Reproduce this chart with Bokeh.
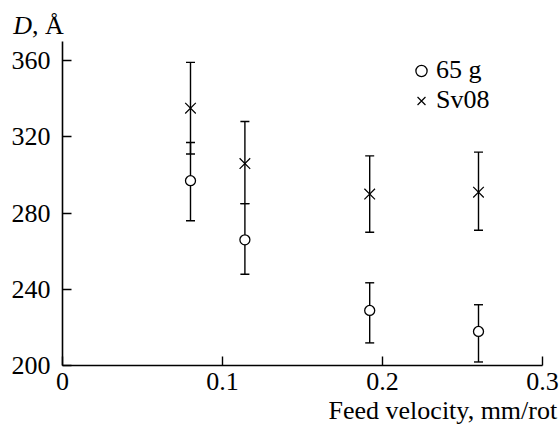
from bokeh.plotting import figure
from bokeh.models import (ColumnDataSource, Whisker, TeeHead, FixedTicker, Label,
                          Legend, LegendItem, Range1d)
from bokeh.embed import file_html
from bokeh.resources import INLINE

# ---- data ----
feed = [0.08, 0.114, 0.192, 0.26]
d_65g = [297, 266, 229, 218]
d_65g_upper = [317, 285, 243.5, 232]
d_65g_lower = [276, 248, 212, 202]
d_sv08 = [335, 306, 290, 291]
d_sv08_upper = [359, 328, 310, 312]
d_sv08_lower = [311, 285, 270, 271]
x_ticks = [0, 0.1, 0.2, 0.3]
x_tick_labels = ["0", "0.1", "0.2", "0.3"]
y_ticks = [200, 240, 280, 320, 360]

FONT = "Liberation Serif"
FS = "26px"

src_g = ColumnDataSource(dict(x=feed, y=d_65g, up=d_65g_upper, lo=d_65g_lower))
src_s = ColumnDataSource(dict(x=feed, y=d_sv08, up=d_sv08_upper, lo=d_sv08_lower))

# frame fills the whole canvas; axes are pinned at x=0 / y=200
p = figure(width=560, height=428, output_backend="svg", toolbar_location=None,
           x_range=Range1d(-0.03875, 0.31125), y_range=Range1d(167.14, 391.44),
           min_border=0)
p.title.visible = False
p.outline_line_color = None
p.xgrid.visible = False
p.ygrid.visible = False
p.background_fill_color = "white"
p.border_fill_color = "white"

for ax in (p.xaxis, p.yaxis):
    ax.axis_line_width = 1.6
    ax.axis_line_color = "black"
    ax.major_tick_line_color = "black"
    ax.major_tick_line_width = 1.4
    ax.major_tick_in = 9
    ax.major_tick_out = 0
    ax.minor_tick_line_color = None
    ax.major_label_text_font = FONT
    ax.major_label_text_font_size = FS
    ax.major_label_text_color = "black"

p.xaxis.fixed_location = 200
p.xaxis.bounds = (0, 0.3)
p.xaxis.ticker = FixedTicker(ticks=x_ticks)
p.xaxis.major_label_overrides = {t: l for t, l in zip(x_ticks, x_tick_labels)}
p.xaxis.major_label_standoff = 7
p.yaxis.fixed_location = 0
p.yaxis.bounds = (200, 370)
p.yaxis.ticker = FixedTicker(ticks=y_ticks)
p.yaxis.major_label_standoff = 12

for src in (src_g, src_s):
    w = Whisker(source=src, base="x", upper="up", lower="lo", dimension="height",
                line_color="black", line_width=1.4, level="underlay",
                upper_head=TeeHead(size=9, line_color="black", line_width=1.4),
                lower_head=TeeHead(size=9, line_color="black", line_width=1.4))
    p.add_layout(w)

r_g = p.scatter("x", "y", source=src_g, marker="circle", size=10,
                fill_color="white", line_color="black", line_width=1.3)
r_s = p.scatter("x", "y", source=src_s, marker="x", size=15,
                line_color="black", line_width=1.2)

legend = Legend(items=[LegendItem(label="65 g", renderers=[r_g]),
                       LegendItem(label="Sv08", renderers=[r_s])],
                location=(407, 312.8), padding=0, margin=0, spacing=0,
                glyph_width=28, glyph_height=29, label_height=29,
                label_standoff=1, border_line_color=None,
                background_fill_alpha=0, label_text_color="black",
                label_text_font=FONT, label_text_font_size=FS)
p.add_layout(legend)

p.add_layout(Label(x=12.7, y=403.3, x_units="screen", y_units="screen", text="D",
                   text_font=FONT, text_font_size=FS, text_font_style="italic",
                   text_color="black", text_baseline="alphabetic"))
p.add_layout(Label(x=31.5, y=403.3, x_units="screen", y_units="screen", text=", Å",
                   text_font=FONT, text_font_size=FS, text_color="black",
                   text_baseline="alphabetic"))
p.add_layout(Label(x=556.7, y=17.7, x_units="screen", y_units="screen",
                   text="Feed velocity, mm/rot", text_align="right",
                   text_font=FONT, text_font_size=FS, text_color="black",
                   text_baseline="alphabetic"))

open("out.html", "w").write(file_html(p, INLINE))
